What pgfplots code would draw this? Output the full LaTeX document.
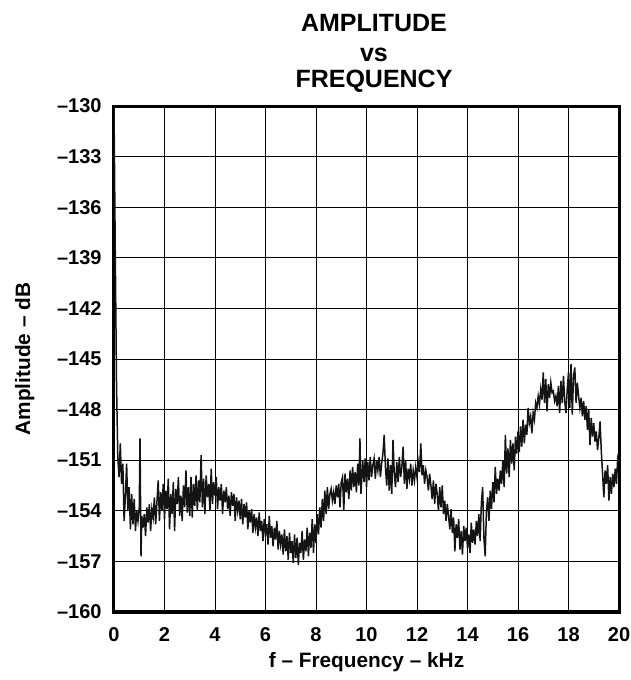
\documentclass[border=0pt]{standalone}
\usepackage{fontspec}
\setmainfont{Liberation Sans}
\usepackage{pgfplots}
\usepackage{pgfplotstable}
\pgfplotsset{compat=1.18}
\pgfplotstableread{
x y
0 -130
0.05 -138.6
0.10 -146.5
0.15 -150.8
0.20 -152.0
0.25 -150.0
0.30 -152.4
0.35 -151.2
0.40 -154.6
0.45 -153.2
0.50 -151.2
0.55 -154.0
0.60 -152.6
0.65 -155.1
0.70 -153.0
0.75 -154.8
0.80 -153.3
0.85 -155.2
0.90 -154.0
0.95 -154.6
1.00 -153.8
1.03 -149.7
1.07 -156.7
1.10 -154.3
1.15 -155.0
1.20 -154.2
1.25 -155.5
1.30 -153.8
1.35 -154.7
1.40 -153.6
1.45 -155.2
1.50 -153.9
1.55 -154.4
1.60 -153.2
1.65 -154.8
1.70 -153.5
1.75 -152.2
1.80 -154.6
1.85 -152.9
1.90 -154.0
1.95 -152.4
2.00 -154.5
2.05 -152.8
2.10 -153.9
2.15 -152.1
2.20 -155.1
2.25 -153.0
2.30 -154.2
2.35 -152.3
2.40 -155.2
2.45 -152.7
2.50 -153.6
2.55 -152.0
2.60 -154.3
2.65 -153.1
2.70 -154.6
2.75 -152.5
2.80 -153.8
2.85 -151.6
2.90 -154.1
2.95 -152.6
3.00 -154.3
3.05 -152.0
3.10 -154.4
3.15 -152.4
3.20 -153.7
3.25 -151.9
3.30 -154.0
3.35 -152.2
3.40 -153.5
3.45 -150.7
3.50 -153.8
3.55 -152.1
3.60 -154.2
3.65 -151.9
3.70 -153.2
3.75 -152.4
3.80 -154.0
3.85 -151.5
3.90 -153.6
3.95 -152.3
4.00 -153.1
4.05 -152.0
4.10 -153.9
4.15 -152.6
4.20 -153.4
4.25 -152.4
4.30 -154.2
4.35 -152.8
4.40 -153.5
4.45 -152.6
4.50 -153.9
4.55 -153.1
4.60 -154.3
4.65 -152.9
4.70 -153.7
4.75 -153.0
4.80 -154.6
4.85 -153.2
4.90 -154.0
4.95 -153.4
5.00 -154.5
5.05 -153.3
5.10 -154.8
5.15 -153.6
5.20 -154.4
5.25 -153.5
5.30 -155.1
5.35 -154.0
5.40 -154.7
5.45 -153.9
5.50 -155.3
5.55 -154.2
5.60 -155.0
5.65 -154.4
5.70 -155.5
5.75 -154.1
5.80 -155.2
5.85 -154.6
5.90 -155.8
5.95 -154.5
6.00 -155.4
6.05 -154.8
6.10 -156.0
6.15 -154.3
6.20 -155.6
6.25 -154.9
6.30 -156.1
6.35 -155.0
6.40 -155.7
6.45 -154.6
6.50 -156.3
6.55 -155.2
6.60 -156.0
6.65 -155.4
6.70 -156.6
6.75 -155.1
6.80 -156.4
6.85 -155.5
6.90 -156.9
6.95 -155.3
7.00 -156.5
7.05 -155.8
7.10 -157.1
7.15 -155.4
7.20 -156.8
7.25 -155.6
7.30 -157.2
7.35 -155.9
7.40 -156.5
7.45 -155.2
7.50 -156.9
7.55 -155.7
7.60 -156.4
7.65 -155.0
7.70 -156.7
7.75 -155.3
7.80 -156.2
7.85 -154.5
7.90 -156.5
7.95 -154.8
8.00 -155.9
8.05 -154.2
8.10 -155.4
8.15 -153.8
8.20 -155.0
8.25 -153.3
8.30 -154.6
8.35 -152.8
8.40 -154.2
8.45 -152.6
8.50 -153.9
8.55 -153.0
8.60 -152.7
8.65 -153.4
8.70 -152.9
8.75 -153.6
8.80 -152.5
8.85 -153.2
8.90 -152.4
8.95 -153.8
9.00 -152.3
9.05 -152.0
9.10 -154.0
9.15 -151.8
9.20 -152.9
9.25 -152.1
9.30 -153.3
9.35 -151.6
9.40 -152.8
9.45 -151.4
9.50 -152.6
9.55 -151.7
9.60 -152.9
9.65 -151.2
9.70 -152.5
9.74 -149.7
9.78 -153.0
9.85 -151.0
9.90 -152.3
9.95 -150.9
10.00 -152.6
10.05 -151.1
10.10 -152.2
10.15 -150.8
10.20 -152.0
10.25 -151.3
10.30 -150.9
10.35 -152.1
10.40 -151.0
10.45 -151.6
10.50 -150.8
10.55 -152.0
10.60 -151.2
10.65 -150.6
10.70 -149.5
10.75 -151.4
10.80 -152.5
10.85 -150.9
10.90 -152.8
10.95 -151.3
11.00 -153.0
11.05 -149.8
11.10 -151.8
11.15 -152.6
11.20 -151.1
11.25 -152.3
11.30 -150.8
11.35 -152.0
11.40 -151.4
11.45 -150.2
11.50 -152.4
11.55 -151.0
11.60 -152.7
11.65 -151.5
11.70 -152.1
11.75 -151.2
11.80 -152.5
11.85 -151.6
11.90 -152.2
11.95 -151.4
12.00 -152.0
12.05 -151.1
12.10 -151.7
12.15 -150.0
12.20 -151.9
12.25 -151.3
12.30 -152.4
12.35 -151.6
12.40 -152.0
12.45 -152.8
12.50 -151.8
12.55 -152.5
12.60 -153.3
12.65 -152.2
12.70 -153.6
12.75 -152.4
12.80 -153.0
12.85 -154.0
12.90 -152.6
12.95 -153.8
13.00 -152.5
13.05 -154.2
13.10 -153.4
13.15 -154.6
13.20 -153.6
13.25 -154.3
13.30 -155.1
13.35 -153.9
13.40 -155.3
13.45 -154.4
13.50 -156.4
13.55 -154.8
13.60 -155.6
13.65 -154.5
13.70 -156.3
13.75 -155.2
13.80 -156.6
13.85 -154.9
13.90 -155.8
13.95 -155.0
14.00 -156.2
14.05 -155.4
14.10 -156.5
14.15 -154.7
14.20 -155.9
14.25 -155.1
14.30 -156.0
14.35 -154.6
14.40 -155.5
14.45 -154.2
14.50 -155.8
14.55 -153.5
14.60 -152.6
14.65 -155.6
14.70 -156.7
14.75 -154.0
14.80 -153.2
14.85 -154.6
14.90 -152.8
14.95 -153.9
15.00 -152.3
15.05 -153.5
15.10 -151.4
15.15 -153.0
15.20 -152.1
15.25 -152.8
15.30 -151.6
15.35 -152.4
15.40 -151.0
15.45 -152.6
15.50 -149.5
15.55 -151.8
15.60 -150.3
15.65 -152.0
15.70 -149.8
15.75 -151.2
15.80 -150.0
15.85 -151.6
15.90 -149.6
15.95 -150.6
16.00 -149.3
16.05 -150.5
16.10 -149.0
16.15 -150.2
16.20 -148.6
16.25 -150.0
16.30 -148.9
16.35 -149.5
16.40 -147.9
16.45 -148.8
16.50 -148.4
16.55 -149.4
16.60 -148.2
16.65 -148.6
16.70 -147.6
16.75 -147.9
16.80 -147.2
16.85 -147.7
16.90 -146.8
16.95 -147.4
17.00 -145.8
17.05 -147.6
17.10 -146.2
17.15 -148.1
17.20 -146.5
17.25 -147.3
17.30 -146.4
17.35 -147.0
17.40 -146.9
17.45 -147.5
17.50 -147.2
17.55 -147.8
17.60 -146.6
17.65 -148.2
17.70 -146.3
17.75 -147.6
17.80 -146.0
17.85 -147.5
17.90 -148.2
17.95 -146.8
18.00 -145.8
18.05 -147.9
18.10 -145.3
18.15 -148.3
18.20 -146.0
18.25 -145.5
18.30 -147.6
18.35 -146.4
18.40 -147.2
18.45 -147.9
18.50 -147.3
18.55 -148.4
18.60 -147.5
18.65 -148.6
18.70 -147.8
18.75 -149.2
18.80 -148.0
18.85 -150.1
18.90 -148.5
18.95 -149.6
19.00 -148.8
19.05 -149.9
19.10 -149.3
19.15 -150.4
19.20 -149.7
19.25 -148.7
19.30 -150.5
19.35 -151.8
19.40 -153.2
19.45 -151.6
19.50 -152.4
19.55 -151.3
19.60 -153.4
19.65 -152.0
19.70 -153.0
19.75 -151.8
19.80 -152.6
19.85 -151.5
19.90 -152.4
19.95 -150.8
20.00 -150.5
}\spectrum
\begin{document}
\begin{tikzpicture}
\begin{axis}[name=ax,
  scale only axis, width=252.5pt, height=253pt,
  xmin=0, xmax=20, ymin=-160, ymax=-130,
  xtick={0,2,4,6,8,10,12,14,16,18,20},
  ytick={-160,-157,-154,-151,-148,-145,-142,-139,-136,-133,-130},
  yticklabels={–160,–157,–154,–151,–148,–145,–142,–139,–136,–133,–130},
  grid=major,
  major grid style={black, line width=0.5pt},
  major tick length=0pt,
  axis line style={black, line width=1.5pt},
  /pgf/number format/assume math mode=true,
  tick label style={font=\fontsize{10}{12}\selectfont\bfseries, inner sep=0pt},
  yticklabel style={xshift=-6pt},
  xticklabel style={yshift=-7.5pt},
]
\addplot[color=black!92, line width=0.75pt] table {\spectrum};
\end{axis}
\node[anchor=base, font=\fontsize{12.5}{15}\selectfont\bfseries] at ([xshift=3.75pt,yshift=37pt]ax.north) {AMPLITUDE};
\node[anchor=base, font=\fontsize{12.5}{15}\selectfont\bfseries] at ([xshift=3.75pt,yshift=22pt]ax.north) {vs};
\node[anchor=base, font=\fontsize{12.5}{15}\selectfont\bfseries] at ([xshift=3.75pt,yshift=9.5pt]ax.north) {FREQUENCY};
\node[anchor=base, font=\fontsize{10.4}{12}\selectfont\bfseries] at ([yshift=-27.5pt]ax.south) {f – Frequency – kHz};
\node[anchor=base, rotate=90, font=\fontsize{10.4}{12}\selectfont\bfseries] at ([xshift=-42pt]ax.west) {Amplitude – dB};
\pgfresetboundingbox
\path ([shift={(-57pt,-34pt)}]ax.south west) rectangle ([shift={(6pt,53pt)}]ax.north east);
\end{tikzpicture}
\end{document}
